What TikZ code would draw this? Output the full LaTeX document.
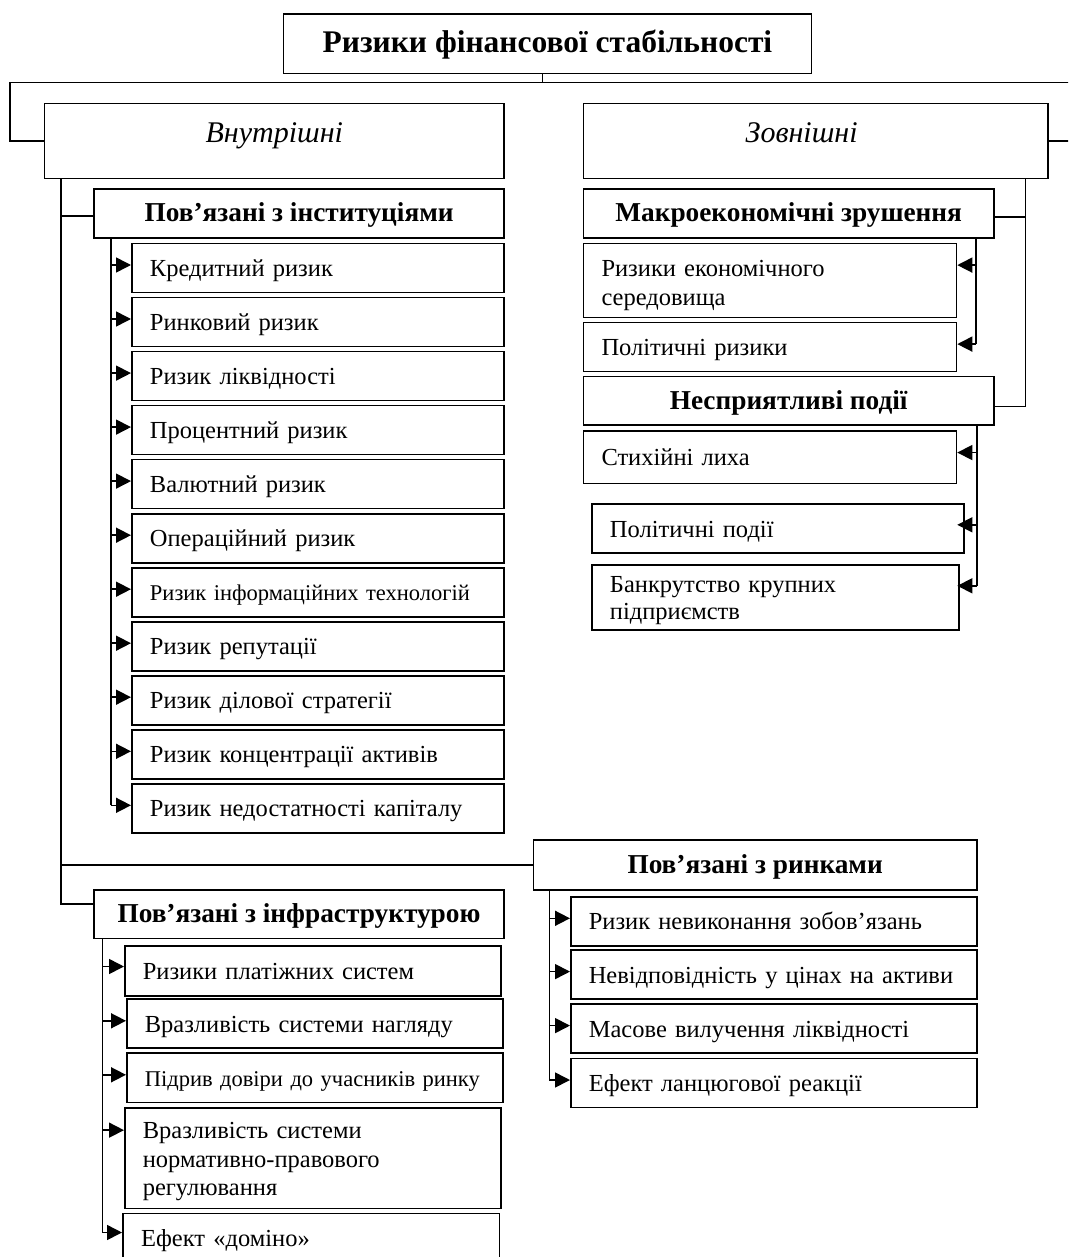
\documentclass[tikz,border=0pt]{standalone}
\usepackage{fontspec}
\setmainfont{Liberation Serif}
\usetikzlibrary{arrows.meta}
\begin{document}
\begin{tikzpicture}[x=1pt,y=-1pt,
  bx/.style={draw, line width=1.6pt, inner sep=0pt, anchor=north west},
  hd/.style={bx, font=\fontsize{27.3}{31}\selectfont\bfseries},
  it/.style={bx, inner xsep=18pt, inner ysep=0pt, align=left, font=\fontsize{24.5}{28.5}\selectfont},
  one/.style={text height=17pt, text depth=0pt},
  sm/.style={font=\fontsize{22.5}{26}\selectfont},
  ln/.style={line width=1.6pt},
  ar/.style={line width=1.6pt, -{Triangle[length=15pt,width=15pt]}}]
\useasboundingbox (0,0) rectangle (1068,1257);
\clip (0,0) rectangle (1068,1257);

% ---- top level
\node[bx, one, minimum width=527.9pt, minimum height=59.4pt, font=\fontsize{31.5}{35}\selectfont\bfseries] (title) at (282.7,13.3) {Ризики фінансової стабільності};
\node[bx, one, minimum width=459.6pt, minimum height=75pt, font=\fontsize{30}{34}\selectfont\itshape] (vnt) at (43.7,102.7) {\raisebox{7pt}{Внутрішні}};
\node[bx, one, minimum width=464.3pt, minimum height=75pt, font=\fontsize{30}{34}\selectfont\itshape] (zov) at (582.7,102.7) {\raisebox{7pt}{Зовнішні}\hspace*{28pt}};

\coordinate (hl) at (10,82.5);
\coordinate (hr) at (1085,82.5);
\draw[ln] ([xshift=-5pt]title.south) |- (hl);
\draw[ln] (hl) -- (hr);
\draw[ln] (hl) |- (vnt.west);
\draw[ln] (hr) |- (zov.east);

% ---- internal: institutions
\node[hd, one, minimum width=410pt, minimum height=48.7pt] (inst) at (93.3,188.3) {Пов’язані з інституціями};
\node[it, one, minimum width=372.3pt, minimum height=49pt, text width=336pt] (i1) at (131,242.7) {Кредитний ризик};
\node[it, one, minimum width=372.3pt, minimum height=49pt, text width=336pt] (i2) at (131,296.7) {Ринковий ризик};
\node[it, one, minimum width=372.3pt, minimum height=49pt, text width=336pt] (i3) at (131,350.8) {Ризик ліквідності};
\node[it, one, minimum width=372.3pt, minimum height=49pt, text width=336pt] (i4) at (131,404.8) {Процентний ризик};
\node[it, one, minimum width=372.3pt, minimum height=49pt, text width=336pt] (i5) at (131,458.8) {Валютний ризик};
\node[it, one, minimum width=372.3pt, minimum height=49pt, text width=336pt] (i6) at (131,512.9) {Операційний ризик};
\node[it, sm, one, minimum width=372.3pt, minimum height=49pt, text width=336pt] (i7) at (131,566.9) {\mbox{Ризик інформаційних технологій}};
\node[it, one, minimum width=372.3pt, minimum height=49pt, text width=336pt] (i8) at (131,620.9) {Ризик репутації};
\node[it, one, minimum width=372.3pt, minimum height=49pt, text width=336pt] (i9) at (131,674.9) {Ризик ділової стратегії};
\node[it, one, minimum width=372.3pt, minimum height=49pt, text width=336pt] (i10) at (131,729.0) {Ризик концентрації активів};
\node[it, one, minimum width=372.3pt, minimum height=49pt, text width=336pt] (i11) at (131,783.0) {\mbox{Ризик недостатності капіталу}};

\coordinate (iv) at (110.7,0);
\foreach \k in {1,...,11}{
  \coordinate (ia\k) at ([yshift=3pt]i\k.west);
  \draw[ar] (ia\k -| iv) -- (ia\k);
}
\draw[ln] (inst.south -| iv) -- (ia11 -| iv);

% ---- internal: markets
\node[hd, one, minimum width=443.3pt, minimum height=49.7pt] (rynk) at (532.7,839.3) {Пов’язані з ринками};
\node[it, one, minimum width=406pt, minimum height=49pt, text width=370pt] (r1) at (570,896) {\mbox{Ризик невиконання зобов’язань}};
\node[it, one, minimum width=406pt, minimum height=49pt, text width=370pt] (r2) at (570,949.3) {\mbox{Невідповідність у цінах на активи}};
\node[it, one, minimum width=406pt, minimum height=49pt, text width=370pt] (r3) at (570,1003.3) {Масове вилучення ліквідності};
\node[it, one, minimum width=406pt, minimum height=49pt, text width=370pt] (r4) at (570,1057.7) {Ефект ланцюгової реакції};

\coordinate (kv) at (549.3,0);
\foreach \k in {1,...,4}{
  \coordinate (ra\k) at ([yshift=3pt]r\k.west);
  \draw[ar] (ra\k -| kv) -- (ra\k);
}
\draw[ln] (rynk.south -| kv) -- (ra4 -| kv);

% ---- internal: infrastructure
\node[hd, one, minimum width=410.3pt, minimum height=48.7pt] (infra) at (93,889) {Пов’язані з інфраструктурою};
\node[it, one, minimum width=376pt, minimum height=50pt, text width=340pt] (f1) at (124,945) {Ризики платіжних систем};
\node[it, one, minimum width=376pt, minimum height=49pt, text width=340pt] (f2) at (126,998.3) {\mbox{Вразливість системи нагляду}};
\node[it, sm, one, minimum width=376pt, minimum height=49.4pt, text width=340pt] (f3) at (126,1052.3) {\mbox{Підрив довіри до учасників ринку}};
\node[it, text height=17pt, text depth=55.7pt, minimum width=376pt, minimum height=100.7pt, text width=340pt] (f4) at (124,1107) {Вразливість системи\\нормативно-правового\\регулювання};
\node[it, one, minimum width=376.7pt, minimum height=49pt, text width=340pt] (f5) at (122,1212.7) {Ефект «доміно»};

\coordinate (fv) at (102.3,0);
\coordinate (fa1) at ([yshift=4.3pt]f1.west);
\coordinate (fa2) at ([yshift=2.8pt]f2.west);
\coordinate (fa3) at ([yshift=3pt]f3.west);
\coordinate (fa4) at ([yshift=28pt]f4.west);
\coordinate (fa5) at ([yshift=5.5pt]f5.west);
\foreach \k in {1,...,5}{
  \draw[ar] (fa\k -| fv) -- (fa\k);
}
\draw[ln] (infra.south -| fv) -- (fa5 -| fv);

% ---- main left trunk
\coordinate (lv) at (61,0);
\draw[ln] (vnt.south -| lv) |- ([yshift=10pt]infra.west);
\coordinate (ie) at ([yshift=-2.5pt]inst.west);
\draw[ln] (ie -| lv) -- (ie);
\draw[ln] (rynk.west -| lv) -- (rynk.west);

% ---- external
\node[hd, one, minimum width=410.3pt, minimum height=48.7pt] (makro) at (582.7,188.3) {Макроекономічні зрушення};
\node[it, text height=17pt, text depth=25pt, minimum width=373pt, minimum height=74pt, text width=337pt] (ekon) at (582.7,242.7) {Ризики економічного\\середовища};
\node[it, one, minimum width=373pt, minimum height=49pt, text width=337pt] (polr) at (582.7,321.7) {Політичні ризики};
\node[hd, one, minimum width=410.3pt, minimum height=48.6pt] (nesp) at (582.7,375.7) {Несприятливі події};
\node[it, one, minimum width=373pt, minimum height=52.7pt, text width=337pt] (stych) at (582.7,430) {Стихійні лиха};
\node[it, one, minimum width=372.3pt, minimum height=49pt, text width=336pt] (polp) at (591,503.3) {Політичні події};
\node[it, text height=17pt, text depth=27.2pt, minimum width=367.3pt, minimum height=65pt, text width=331pt] (bank) at (591,564.3) {Банкрутство крупних\\[-1.5pt]підприємств};

\coordinate (rv) at (1025.5,0);
\coordinate (ne) at ([yshift=-5.7pt]nesp.east);
\coordinate (me) at ([yshift=-3.4pt]makro.east);
\draw[ln] (zov.south -| rv) |- (ne);
\draw[ln] (me) -- (me -| rv);

\coordinate (mv) at (976,0);
\coordinate (ea) at ([yshift=15.4pt]ekon.east);
\coordinate (pa) at ([yshift=2.9pt]polr.east);
\draw[ln] (makro.south -| mv) -- (pa -| mv);
\draw[ar] (ea -| mv) -- (ea);
\draw[ar] (pa -| mv) -- (pa);

\coordinate (nv) at (977,0);
\coordinate (sa) at ([yshift=4.6pt]stych.east);
\coordinate (ppa) at ([xshift=-7.6pt,yshift=3.8pt]polp.east);
\coordinate (ba) at ([xshift=-2.6pt,yshift=11.8pt]bank.east);
\draw[ln] (nesp.south -| nv) -- (ba -| nv);
\draw[ar] (sa -| nv) -- (sa);
\draw[ar] (ppa -| nv) -- (ppa);
\draw[ar] (ba -| nv) -- (ba);
\end{tikzpicture}
\end{document}
